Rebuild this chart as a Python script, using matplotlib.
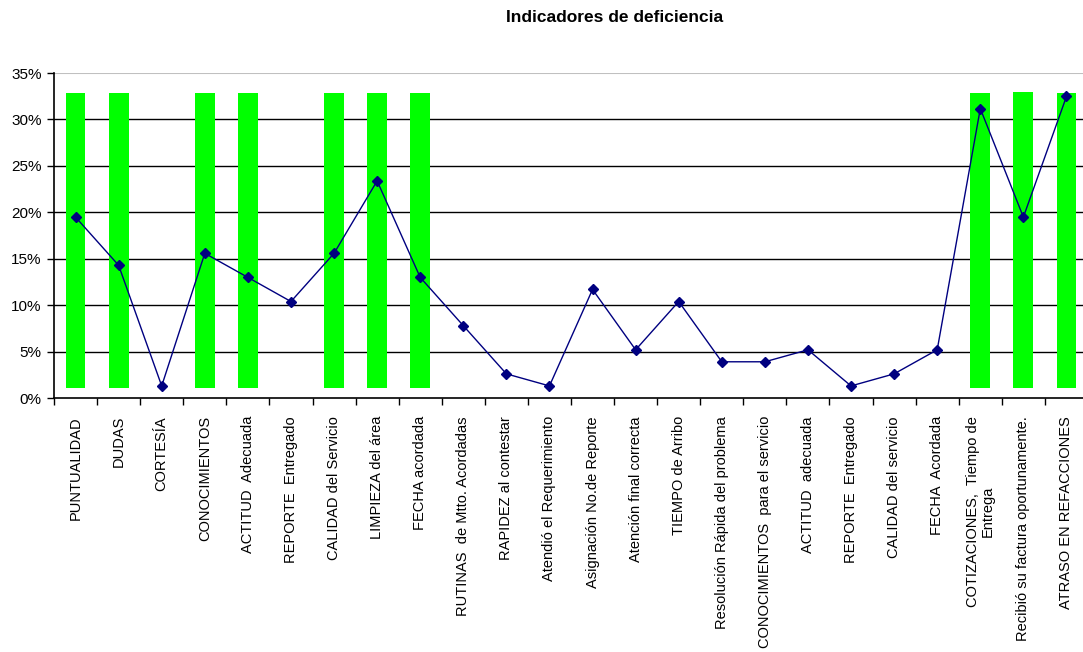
import matplotlib

matplotlib.use("Agg")
import matplotlib.pyplot as plt
from matplotlib.ticker import PercentFormatter, FixedLocator

plt.rcParams["font.family"] = ["Liberation Sans", "DejaVu Sans"]

categories = [
    "PUNTUALIDAD", "DUDAS", "CORTESÍA", "CONOCIMIENTOS", "ACTITUD  Adecuada",
    "REPORTE  Entregado", "CALIDAD del Servicio", "LIMPIEZA del área",
    "FECHA acordada", "RUTINAS  de Mtto. Acordadas", "RAPIDEZ al contestar",
    "Atendió el Requerimiento", "Asignación No.de Reporte",
    "Atención final correcta", "TIEMPO de Arribo",
    "Resolución Rápida del problema", "CONOCIMIENTOS  para el servicio",
    "ACTITUD  adecuada", "REPORTE  Entregado", "CALIDAD del servicio",
    "FECHA  Acordada", "COTIZACIONES,  Tiempo de\nEntrega",
    "Recibió su factura oportunamente.", "ATRASO EN REFACCIONES",
]
# deficiency percentage per indicator (line)
deficiency = [19.48, 14.29, 1.30, 15.58, 12.99, 10.39, 15.58, 23.38, 12.99,
              7.79, 2.60, 1.30, 11.69, 5.19, 10.39, 3.90, 3.90, 5.19, 1.30,
              2.60, 5.19, 31.17, 19.48, 32.47]
# highlighted indicators (green bands): index, bottom, top in %
highlight_idx = [0, 1, 3, 4, 6, 7, 8, 21, 22, 23]
highlight_low = [1.1, 1.1, 1.1, 1.1, 1.1, 1.1, 1.1, 1.1, 1.1, 1.1]
highlight_high = [32.8, 32.8, 32.8, 32.8, 32.8, 32.8, 32.8, 32.8, 32.95, 32.8]

fig = plt.figure(figsize=(10.83, 6.52), dpi=100)
ax = fig.add_axes([54 / 1083, 1 - 398 / 652, 1034 / 1083, 325 / 652])

x = list(range(len(categories)))
ax.bar(highlight_idx,
       [h - l for h, l in zip(highlight_high, highlight_low)],
       bottom=highlight_low, width=0.46, color="#00ff00", zorder=2)
for y in range(5, 35, 5):
    ax.axhline(y, color="black", lw=1, zorder=1)
ax.axhline(35, color="#c0c0c0", lw=1.5, zorder=1)
ax.plot(x, deficiency, color="#000080", lw=1, marker="D", markersize=5,
        zorder=3)

ax.set_xlim(-0.5, len(categories) - 0.5)
ax.set_ylim(0, 35)
ax.set_yticks(range(0, 36, 5))
ax.yaxis.set_major_formatter(PercentFormatter(xmax=100, decimals=0))
ax.tick_params(axis="y", labelsize=11, length=5, width=1, pad=4)

ax.xaxis.set_major_locator(FixedLocator([i - 0.5 for i in range(len(categories))]))
ax.xaxis.set_minor_locator(FixedLocator(x))
ax.set_xticklabels([])
ax.set_xticklabels(categories, minor=True, rotation=90, fontsize=10.5,
                   va="top", ha="center", linespacing=1.0,
                   multialignment="center")
ax.tick_params(axis="x", which="major", length=5, width=1)
ax.tick_params(axis="x", which="minor", length=0, pad=13)

for side in ["top", "right"]:
    ax.spines[side].set_visible(False)
ax.spines["left"].set_linewidth(1.2)
ax.spines["bottom"].set_linewidth(1.2)

fig.text(615 / 1083, 1 - 17 / 652, "Indicadores de deficiencia",
         ha="center", va="center", fontsize=12.5, fontweight="bold")

fig.savefig("out.png", dpi=100)
